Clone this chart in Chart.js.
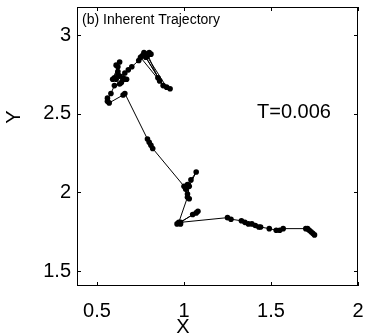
<!DOCTYPE html>
<html>
<head>
<meta charset="utf-8">
<script src="https://cdn.jsdelivr.net/npm/chart.js@4.4.0/dist/chart.umd.min.js"></script>
<style>
html,body{margin:0;padding:0;background:#fff;}
#wrap{width:368px;height:334px;position:relative;}
</style>
</head>
<body>
<div id="wrap"><canvas id="c" width="368" height="334"></canvas></div>
<script>
// Trajectory samples (X, Y), in drawing order
const trajX = [0.92,0.90,0.78,0.77,0.79,0.80,0.76,0.81,0.75,0.86,0.85,0.79,0.78,0.88,0.77,0.74,0.70,0.68,0.66,
  0.63,0.61,0.60,0.59,0.62,0.63,0.61,0.62,0.62,0.64,0.66,0.67,0.65,0.63,0.60,0.58,0.56,0.56,0.57,0.65,0.66,
  0.79,0.80,0.81,0.82,1.00,1.01,1.02,1.03,1.02,1.04,1.07,1.03,1.02,0.97,0.98,0.96,
  1.07,1.08,1.05,0.98,1.25,1.27,1.33,1.35,1.37,1.39,1.41,1.43,1.44,1.49,1.53,1.55,1.57,
  1.70,1.71,1.72,1.73,1.74,1.75];
const trajY = [2.66,2.67,2.88,2.89,2.87,2.89,2.87,2.88,2.86,2.71,2.73,2.88,2.86,2.68,2.88,2.84,2.80,2.78,2.76,
  2.74,2.72,2.73,2.72,2.80,2.83,2.81,2.75,2.77,2.70,2.72,2.72,2.73,2.69,2.68,2.63,2.60,2.58,2.57,2.62,2.63,
  2.34,2.32,2.30,2.28,2.04,2.02,1.99,1.96,2.05,2.08,2.13,2.04,1.97,1.81,1.80,1.80,
  1.87,1.88,1.86,1.81,1.84,1.83,1.82,1.81,1.80,1.80,1.79,1.78,1.78,1.77,1.76,1.76,1.77,
  1.77,1.77,1.76,1.75,1.74,1.73];
const xTicks = [0.5, 1, 1.5, 2];
const yTicks = [1.5, 2, 2.5, 3];
const xRange = [0.385, 2.0];
const yRange = [1.405, 3.18];
const panelTitle = '(b) Inherent Trajectory';
const note = 'T=0.006';
const xLabel = 'X';
const yLabel = 'Y';

const points = trajX.map((x, i) => ({x: x, y: trajY[i]}));
const FONT = '"Liberation Sans", Arial, Helvetica, sans-serif';

const framePlugin = {
  id: 'frame',
  afterDraw(chart) {
    const ctx = chart.ctx;
    const xs = chart.scales.x, ys = chart.scales.y;
    const a = {left: xs.left, right: xs.right, top: ys.top, bottom: ys.bottom};
    ctx.save();
    ctx.strokeStyle = '#000';
    ctx.lineWidth = 1;
    ctx.strokeRect(Math.round(a.left) + 0.5, Math.round(a.top) + 0.5,
      Math.round(a.right - a.left) - 1, Math.round(a.bottom - a.top) - 1);
    const L = 4;
    ctx.beginPath();
    xTicks.forEach(v => {
      const p = Math.round(xs.getPixelForValue(v)) + 0.5;
      ctx.moveTo(p, a.bottom); ctx.lineTo(p, a.bottom - L);
      ctx.moveTo(p, a.top); ctx.lineTo(p, a.top + L);
    });
    yTicks.forEach(v => {
      const p = Math.round(ys.getPixelForValue(v)) + 0.5;
      ctx.moveTo(a.left, p); ctx.lineTo(a.left + L, p);
      ctx.moveTo(a.right, p); ctx.lineTo(a.right - L, p);
    });
    ctx.stroke();
    ctx.fillStyle = '#000';
    ctx.font = '14px ' + FONT;
    ctx.textBaseline = 'middle';
    ctx.textAlign = 'left';
    ctx.fillText(panelTitle, 82, 20);
    ctx.font = '20px ' + FONT;
    ctx.fillText(note, 257, 112);
    ctx.textAlign = 'center';
    ctx.textBaseline = 'alphabetic';
    ctx.fillText(xLabel, 183, 333);
    ctx.translate(14, 117);
    ctx.rotate(-Math.PI / 2);
    ctx.textBaseline = 'middle';
    ctx.fillText(yLabel, 0, 0);
    ctx.restore();
  }
};

function zeroPad(s) { s.paddingLeft = 0; s.paddingRight = 0; s.paddingTop = 0; s.paddingBottom = 0; }

new Chart(document.getElementById('c'), {
  type: 'scatter',
  data: {
    datasets: [{
      data: points,
      showLine: true,
      borderColor: '#000',
      backgroundColor: '#000',
      borderWidth: 1,
      pointRadius: 2.8,
      pointBorderWidth: 0,
      pointHoverRadius: 2.8,
      tension: 0
    }]
  },
  options: {
    responsive: false,
    animation: false,
    events: [],
    layout: {padding: {top: 7, right: 10, left: 0, bottom: 0}},
    plugins: {legend: {display: false}, tooltip: {enabled: false}},
    scales: {
      x: {
        type: 'linear', min: xRange[0], max: xRange[1],
        grid: {display: false, drawTicks: false},
        border: {display: false},
        afterBuildTicks: s => { s.ticks = xTicks.map(v => ({value: v})); },
        afterFit: s => { s.height = 48; zeroPad(s); },
        ticks: {color: '#000', font: {family: FONT, size: 20}, padding: 13, maxRotation: 0,
          callback: v => String(v)}
      },
      y: {
        type: 'linear', min: yRange[0], max: yRange[1],
        grid: {display: false, drawTicks: false},
        border: {display: false},
        afterBuildTicks: s => { s.ticks = yTicks.map(v => ({value: v})); },
        afterFit: s => { s.width = 77; zeroPad(s); },
        ticks: {color: '#000', font: {family: FONT, size: 20}, padding: 6,
          callback: v => String(v)}
      }
    }
  },
  plugins: [framePlugin]
});
</script>
</body>
</html>
